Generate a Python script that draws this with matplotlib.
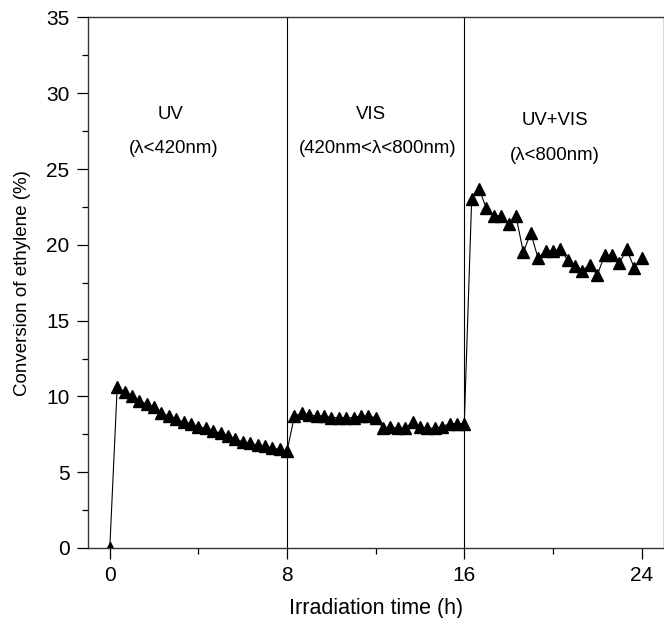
import matplotlib.pyplot as plt
from matplotlib.ticker import MultipleLocator

plt.rcParams['font.family'] = ['Liberation Sans', 'DejaVu Sans']

# irradiation time (h), one point every 20 min
time_h = [0] + [i / 3 for i in range(1, 73)]

uv = [0.0, 10.6, 10.3, 10.0, 9.7, 9.5, 9.3, 8.9, 8.7, 8.5, 8.3, 8.2, 8.0,
      7.9, 7.7, 7.6, 7.4, 7.2, 7.0, 6.9, 6.8, 6.7, 6.6, 6.5, 6.4]
vis = [8.7, 8.9, 8.8, 8.7, 8.7, 8.6, 8.6, 8.6, 8.6, 8.7, 8.7, 8.6,
       7.9, 8.0, 7.9, 7.9, 8.3, 8.0, 7.9, 7.9, 8.0, 8.2, 8.2, 8.2]
uv_vis = [23.0, 23.7, 22.4, 21.9, 21.9, 21.4, 21.9, 19.5, 20.8, 19.1, 19.6, 19.6,
          19.7, 19.0, 18.6, 18.3, 18.7, 18.0, 19.3, 19.3, 18.8, 19.7, 18.5, 19.1]
conversion = uv + vis + uv_vis

labels = [(2.75, 28.6, "UV"), (2.9, 26.35, "(λ<420nm)"),
          (11.8, 28.6, "VIS"), (12.1, 26.35, "(420nm<λ<800nm)"),
          (20.1, 28.2, "UV+VIS"), (20.1, 25.9, "(λ<800nm)")]

fig = plt.figure(figsize=(6.64, 6.18), dpi=100)
ax = fig.add_axes([0.132, 0.1133, 0.8675, 0.8584])

ax.plot(time_h, conversion, color='black', linewidth=0.8, marker='^',
        markersize=8, markerfacecolor='black', markeredgecolor='black')

for xv in (8, 16):
    ax.axvline(xv, color='black', linewidth=0.8)

for x, y, s in labels:
    ax.text(x, y, s, ha='center', va='center', fontsize=13.4)

ax.set_xlim(-1, 25)
ax.set_ylim(0, 35)
ax.set_xticks([0, 8, 16, 24])
ax.xaxis.set_minor_locator(MultipleLocator(4))
ax.yaxis.set_major_locator(MultipleLocator(5))
ax.yaxis.set_minor_locator(MultipleLocator(2.5))
ax.tick_params(which='major', direction='out', length=8, width=0.9, labelsize=15, pad=5)
ax.tick_params(which='minor', direction='out', length=4.5, width=0.9)
ax.tick_params(top=False, right=False)

for s in ax.spines.values():
    s.set_linewidth(1.0)
    s.set_color('#333333')

ax.set_xlabel("Irradiation time (h)", fontsize=15.5, labelpad=9)
ax.set_ylabel("Conversion of ethylene (%)", fontsize=13.5, labelpad=11)

plt.savefig("out.png", dpi=100)
